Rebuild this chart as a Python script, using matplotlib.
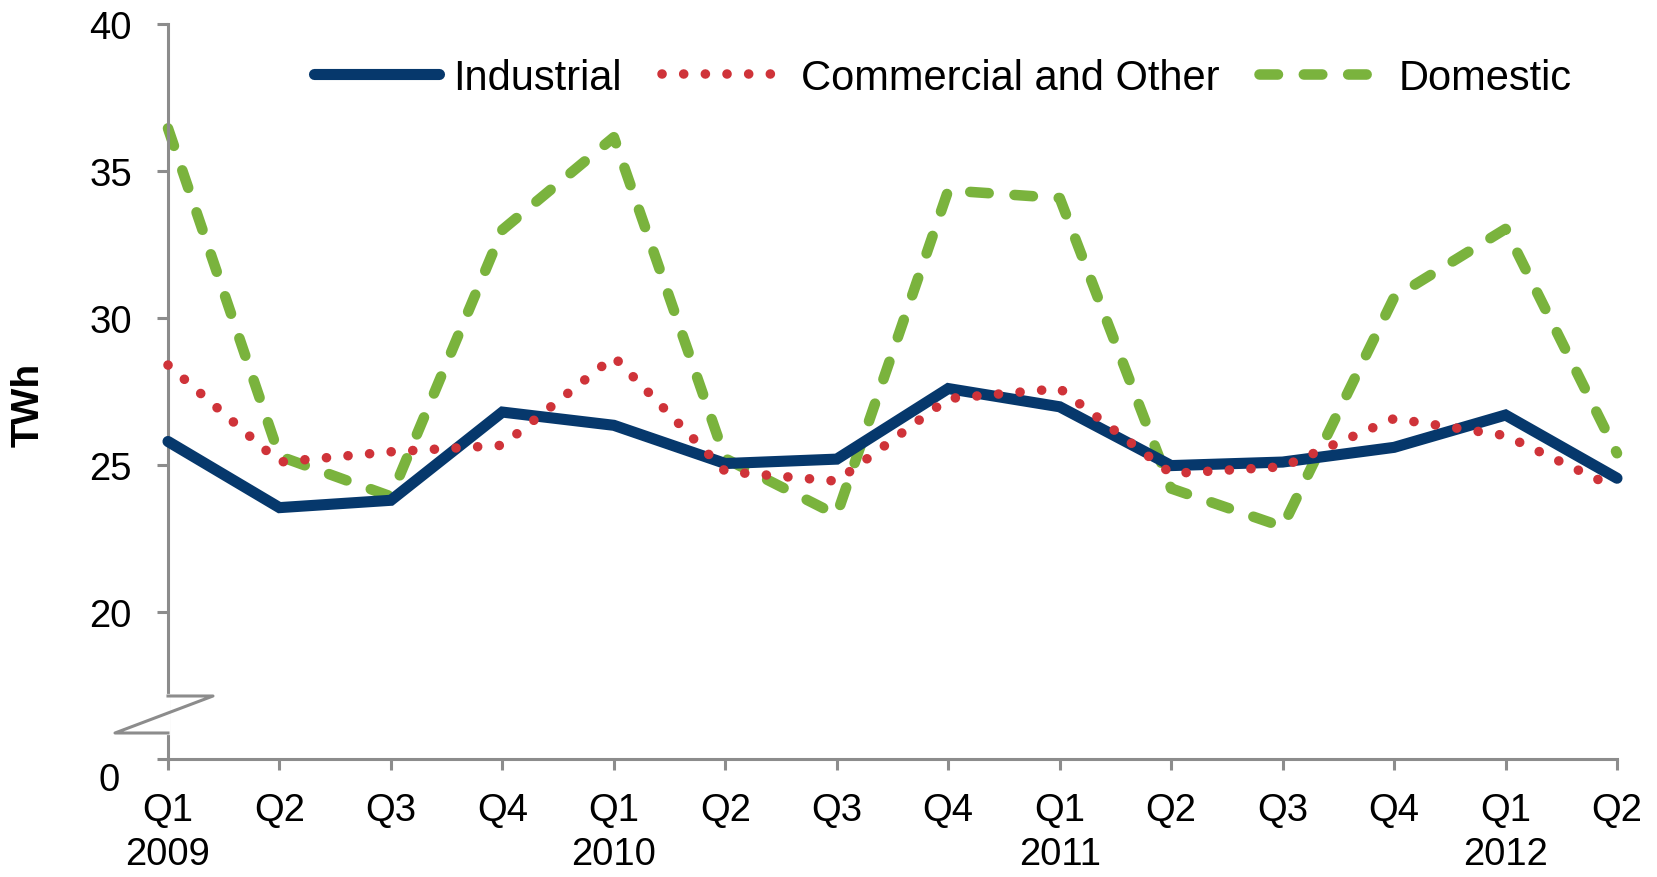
import matplotlib
matplotlib.use("Agg")
import matplotlib.pyplot as plt
from matplotlib.lines import Line2D

plt.rcParams['font.family'] = ['Liberation Sans', 'DejaVu Sans']

quarters = ["Q1", "Q2", "Q3", "Q4", "Q1", "Q2", "Q3", "Q4", "Q1", "Q2", "Q3", "Q4", "Q1", "Q2"]
years = ["2009", "", "", "", "2010", "", "", "", "2011", "", "", "", "2012", ""]
industrial = [25.8, 23.55, 23.8, 26.8, 26.35, 25.05, 25.2, 27.6, 26.98, 24.98, 25.1, 25.6, 26.7, 24.55]
commercial = [28.4, 25.1, 25.45, 25.67, 28.68, 24.78, 24.45, 27.26, 27.6, 24.71, 24.94, 26.58, 26.0, 24.2]
domestic = [36.45, 25.3, 23.93, 33.0, 36.15, 25.22, 23.3, 34.34, 34.08, 24.2, 22.9, 30.7, 33.03, 25.4]
ytick_vals = [15, 20, 25, 30, 35, 40]
ytick_labels = ["", "20", "25", "30", "35", "40"]

navy = "#06386C"
red = "#CF3339"
green = "#7AB33D"
axis_gray = "#8C8C8C"

fig = plt.figure(figsize=(16.58, 8.78), dpi=100)
ax = fig.add_axes([168/1658, 1-760/878, (1617-168)/1658, (760-25)/878])

x = list(range(len(quarters)))
ax.plot(x, industrial, color=navy, lw=8, solid_capstyle='round', solid_joinstyle='miter',
        label="Industrial", zorder=3, clip_on=False)
ax.plot(x, commercial, color=red, lw=6.9, dashes=(0.01, 2.25), dash_capstyle='round',
        label="Commercial and Other", zorder=4, clip_on=False)
ax.plot(x, domestic, color=green, lw=7.6, dashes=(1.75, 2.45), dash_capstyle='round',
        label="Domestic", zorder=2, clip_on=False)

ax.set_xlim(0, len(quarters) - 1)
ax.set_ylim(15, 40)

ax.set_xticks(x)
ax.set_xticklabels([q + ("\n" + y if y else "") for q, y in zip(quarters, years)], fontsize=27.5)
for lbl in ax.get_xticklabels():
    lbl.set_linespacing(1.29)
ax.set_yticks(ytick_vals)
ax.set_yticklabels(ytick_labels, fontsize=27.5)

for s in ["top", "right"]:
    ax.spines[s].set_visible(False)
for s in ["left", "bottom"]:
    ax.spines[s].set_color(axis_gray)
    ax.spines[s].set_linewidth(2.2)
ax.tick_params(axis='both', direction='out', length=8, width=2.2, color=axis_gray)
ax.tick_params(axis='x', pad=16)
ax.tick_params(axis='y', pad=18)

# "0" label at the origin (axis break)
ax.text(-0.033, -0.028, "0", transform=ax.transAxes, ha='right', va='center', fontsize=27.5)

# axis break symbol
y_hi = (760 - 697) / 735
y_lo = (760 - 734) / 735
ax.add_line(Line2D([0, 0], [y_lo, y_hi], transform=ax.transAxes, color='white', lw=3, clip_on=False, zorder=5))
ax.add_line(Line2D([0, 45/1449, -53/1449, 0], [y_hi, y_hi, y_lo, y_lo], transform=ax.transAxes,
                   color=axis_gray, lw=2.2, clip_on=False, zorder=6))

fig.text(29/1658, 1 - 405/878, "TWh", rotation=90, ha='center', va='center',
         fontsize=28, fontweight='bold')

ax.legend(loc='center left', bbox_to_anchor=((314-168)/1449, (760-79)/735), frameon=False,
          ncol=3, fontsize=30, handlelength=3.0, handletextpad=0.35, columnspacing=0.95,
          borderpad=0, borderaxespad=0)

fig.savefig("out.png", dpi=100)
